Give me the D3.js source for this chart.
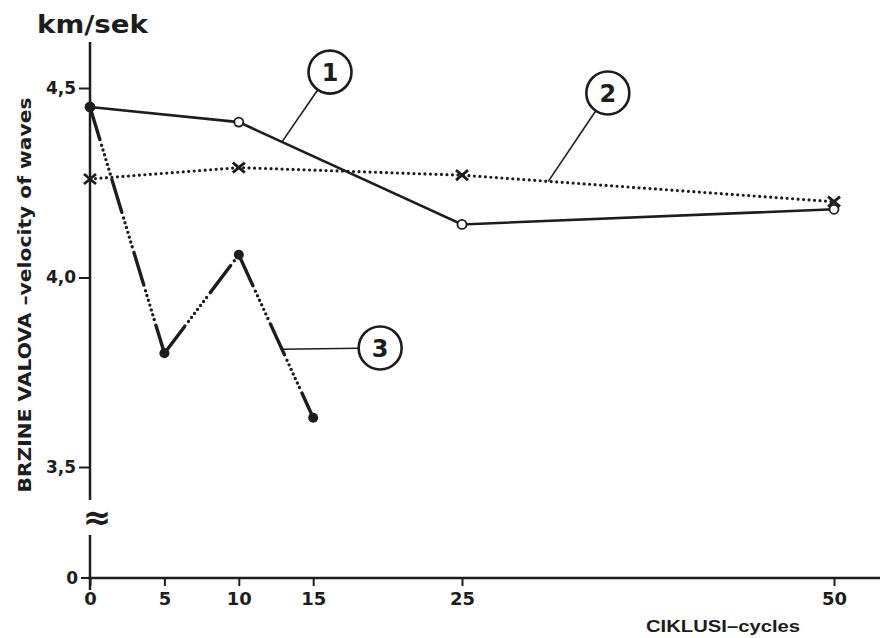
<!DOCTYPE html>
<html>
<head>
<meta charset="utf-8">
<script src="https://cdn.jsdelivr.net/npm/d3@7"></script>
<style>
  body { margin: 0; background: #fff; }
  svg { display: block; }
</style>
</head>
<body>
<svg id="chart" width="880" height="638"></svg>
<script>
// Wave velocity (km/s) against number of cycles, three specimens
const xTicks = [0, 5, 10, 15, 25, 50];
const yTicks = [3.5, 4.0, 4.5];
const yTickLabels = ["3,5", "4,0", "4,5"];

const s1Cycles = [0, 10, 25, 50];
const s1Velocity = [4.45, 4.41, 4.14, 4.18];

const s2Cycles = [0, 10, 25, 50];
const s2Velocity = [4.26, 4.29, 4.27, 4.20];

const s3Cycles = [0, 5, 10, 15];
const s3Velocity = [4.45, 3.80, 4.06, 3.63];

// callout labels: circle centre and the point on the curve they refer to (data units)
const calloutText = ["1", "2", "3"];
const calloutCx = [16.13, 34.8, 19.5];
const calloutCy = [4.542, 4.487, 3.814];
const calloutAnchorX = [12.9, 30.8, 12.9];

const W = 880, H = 638;
const ink = "#1d1d1d";
const svg = d3.select("#chart");

const x = d3.scaleLinear().domain([0, 50]).range([90, 834]);
const y = d3.scaleLinear().domain([3.5, 4.5]).range([467, 88]);
const baseY = 578;           // zero line, below the axis break
const axisX = x(0);
const boldFont = "DejaVu Sans";

// ---- x axis ----
svg.append("line")
  .attr("x1", axisX - 2).attr("x2", W)
  .attr("y1", baseY).attr("y2", baseY)
  .attr("stroke", ink).attr("stroke-width", 2.5);

const gx = svg.append("g")
  .attr("transform", `translate(0,${baseY})`)
  .call(d3.axisBottom(x).tickValues(xTicks).tickSize(8).tickPadding(6).tickFormat(d => d));
gx.select(".domain").remove();
gx.selectAll("line").attr("stroke", ink).attr("stroke-width", 2);
gx.selectAll("text")
  .attr("font-family", boldFont).attr("font-weight", "bold")
  .attr("font-size", 18).attr("fill", ink);

// ---- y axis (broken between 3,5 and 0) ----
svg.append("line")
  .attr("x1", axisX).attr("x2", axisX)
  .attr("y1", 42).attr("y2", 500)
  .attr("stroke", ink).attr("stroke-width", 2.5);
svg.append("line")
  .attr("x1", axisX).attr("x2", axisX)
  .attr("y1", 535).attr("y2", 590)
  .attr("stroke", ink).attr("stroke-width", 2.5);

const gy = svg.append("g")
  .attr("transform", `translate(${axisX},0)`)
  .call(d3.axisLeft(y).tickValues(yTicks).tickSize(11).tickPadding(3)
    .tickFormat((d, i) => yTickLabels[i]));
gy.select(".domain").remove();
gy.selectAll("line").attr("stroke", ink).attr("stroke-width", 2);
gy.selectAll("text")
  .attr("font-family", boldFont).attr("font-weight", "bold")
  .attr("font-size", 17).attr("fill", ink);

// zero tick below the break
svg.append("line")
  .attr("x1", axisX - 9).attr("x2", axisX)
  .attr("y1", baseY).attr("y2", baseY)
  .attr("stroke", ink).attr("stroke-width", 2);
svg.append("text")
  .attr("x", axisX - 12).attr("y", baseY).attr("dy", "0.36em")
  .attr("text-anchor", "end")
  .attr("font-family", boldFont).attr("font-weight", "bold")
  .attr("font-size", 17).attr("fill", ink)
  .text("0");

// break mark
svg.append("text")
  .attr("x", axisX + 7).attr("y", 518).attr("dy", "0.32em")
  .attr("text-anchor", "middle")
  .attr("font-family", boldFont).attr("font-weight", "bold")
  .attr("font-size", 34).attr("fill", ink)
  .text("≈");

// ---- titles ----
svg.append("text")
  .attr("x", 37).attr("y", 33)
  .attr("font-family", boldFont).attr("font-weight", "bold")
  .attr("font-size", 25).attr("fill", ink)
  .attr("textLength", 111).attr("lengthAdjust", "spacingAndGlyphs")
  .text("km/sek");

svg.append("text")
  .attr("transform", "translate(31,295) rotate(-90)")
  .attr("text-anchor", "middle")
  .attr("font-family", boldFont).attr("font-weight", "bold")
  .attr("font-size", 17).attr("fill", ink)
  .attr("textLength", 395).attr("lengthAdjust", "spacingAndGlyphs")
  .text("BRZINE VALOVA –velocity of waves");

svg.append("text")
  .attr("x", 646).attr("y", 632)
  .attr("font-family", "Liberation Sans").attr("font-weight", "bold")
  .attr("font-size", 17).attr("fill", ink)
  .attr("textLength", 154).attr("lengthAdjust", "spacingAndGlyphs")
  .text("CIKLUSI–cycles");

// ---- series ----
const s1 = d3.zip(s1Cycles, s1Velocity);
const s2 = d3.zip(s2Cycles, s2Velocity);
const s3 = d3.zip(s3Cycles, s3Velocity);
const line = d3.line().x(d => x(d[0])).y(d => y(d[1]));

svg.append("path").datum(s2)
  .attr("d", line).attr("fill", "none")
  .attr("stroke", ink).attr("stroke-width", 3.2)
  .attr("stroke-linecap", "round")
  .attr("stroke-dasharray", "0 5.5");

svg.append("path").datum(s1)
  .attr("d", line).attr("fill", "none")
  .attr("stroke", ink).attr("stroke-width", 2.6);

// dash-dot curve: each segment starts with a long dash at its point
svg.append("g").selectAll("path").data(d3.pairs(s3)).join("path")
  .attr("d", line).attr("fill", "none")
  .attr("stroke", ink).attr("stroke-width", 3.4)
  .attr("stroke-linecap", "round")
  .attr("stroke-dasharray", "34 6 0 5 0 5 0 5 0 5 0 5 0 5 0 6");

// markers
svg.append("g").selectAll("circle").data(s1).join("circle")
  .attr("cx", d => x(d[0])).attr("cy", d => y(d[1])).attr("r", 4.5)
  .attr("fill", "#fff").attr("stroke", ink).attr("stroke-width", 1.8);

svg.append("g").selectAll("path").data(s2).join("path")
  .attr("transform", d => `translate(${x(d[0])},${y(d[1])})`)
  .attr("d", "M-6,-5L6,5M-6,5L6,-5")
  .attr("stroke", ink).attr("stroke-width", 2.8).attr("fill", "none");

svg.append("g").selectAll("circle").data(s3).join("circle")
  .attr("cx", d => x(d[0])).attr("cy", d => y(d[1])).attr("r", 5)
  .attr("fill", ink);

// ---- callouts ----
const seriesList = [s1, s2, s3];
function valueAt(series, c) {
  for (let i = 0; i < series.length - 1; i++) {
    const [c0, v0] = series[i], [c1, v1] = series[i + 1];
    if (c >= c0 && c <= c1) return v0 + (v1 - v0) * (c - c0) / (c1 - c0);
  }
  return series[series.length - 1][1];
}
const R = 21.5;
calloutText.forEach((t, i) => {
  const cx = x(calloutCx[i]), cy = y(calloutCy[i]);
  const ax = x(calloutAnchorX[i]), ay = y(valueAt(seriesList[i], calloutAnchorX[i]));
  const dx = ax - cx, dy = ay - cy, len = Math.hypot(dx, dy);
  svg.append("line")
    .attr("x1", ax).attr("y1", ay)
    .attr("x2", cx + R * dx / len).attr("y2", cy + R * dy / len)
    .attr("stroke", ink).attr("stroke-width", 1.6);
  svg.append("circle")
    .attr("cx", cx).attr("cy", cy).attr("r", R)
    .attr("fill", "#fff").attr("stroke", ink).attr("stroke-width", 2.6);
  svg.append("text")
    .attr("x", cx).attr("y", cy).attr("dy", "0.36em")
    .attr("text-anchor", "middle")
    .attr("font-family", boldFont).attr("font-weight", "bold")
    .attr("font-size", 24).attr("fill", ink)
    .text(t);
});
</script>
</body>
</html>
